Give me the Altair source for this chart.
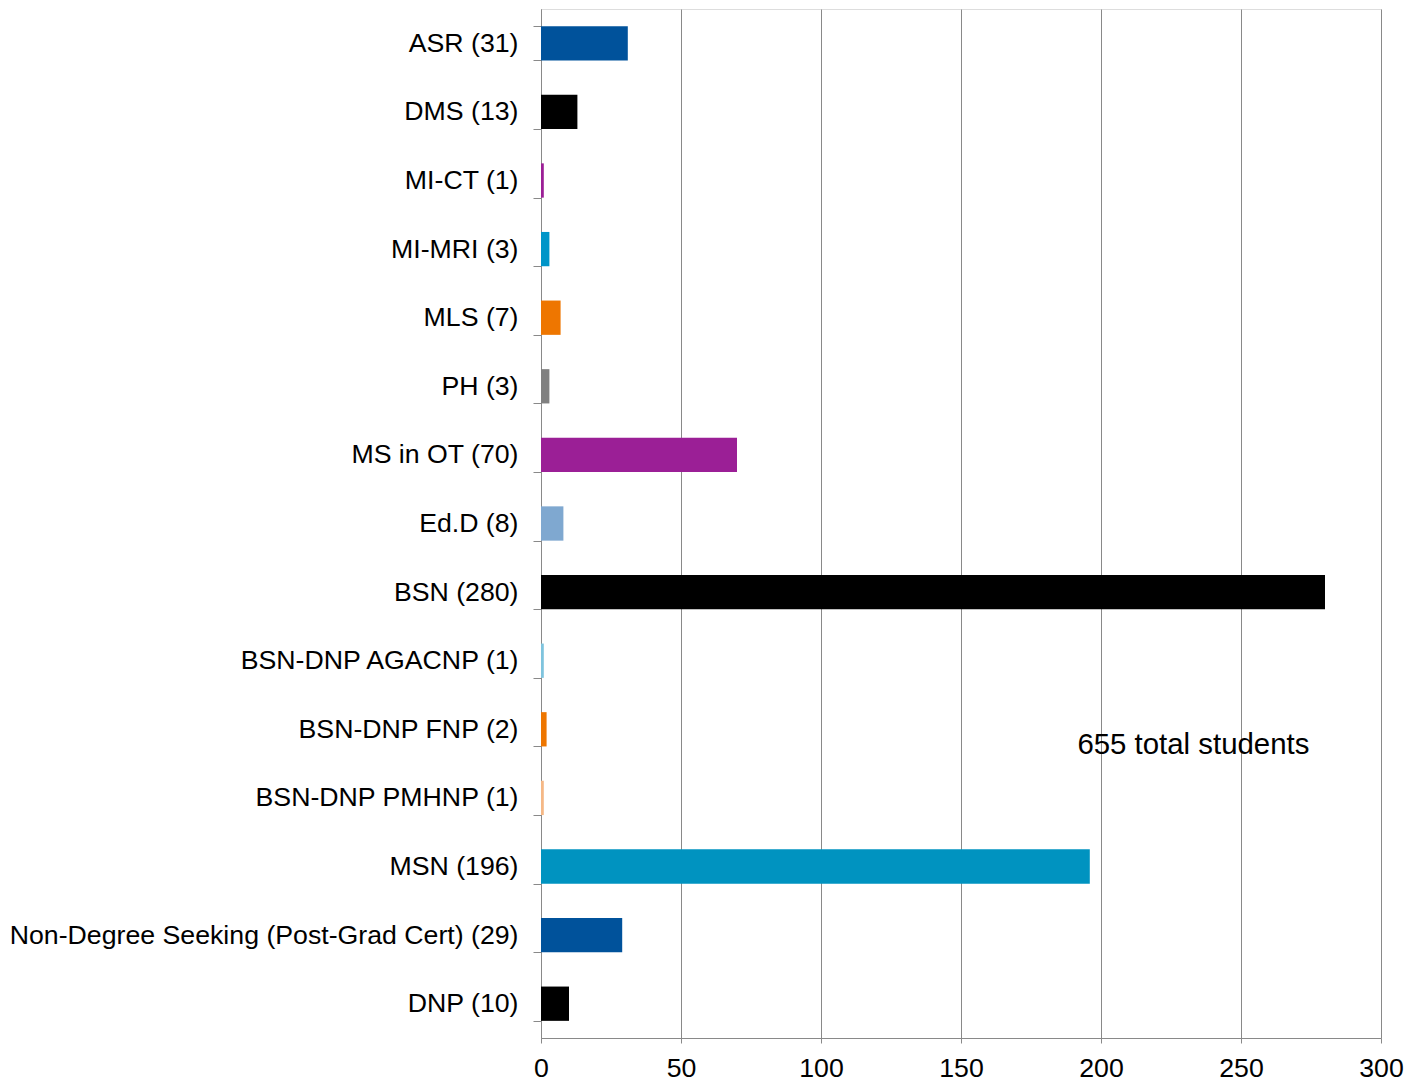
import altair as alt
import pandas as pd

programs = [
    "ASR (31)", "DMS (13)", "MI-CT (1)", "MI-MRI (3)", "MLS (7)", "PH (3)",
    "MS in OT (70)", "Ed.D (8)", "BSN (280)", "BSN-DNP AGACNP (1)",
    "BSN-DNP FNP (2)", "BSN-DNP PMHNP (1)", "MSN (196)",
    "Non-Degree Seeking (Post-Grad Cert) (29)", "DNP (10)",
]
counts = [31, 13, 1, 3, 7, 3, 70, 8, 280, 1, 2, 1, 196, 29, 10]
colors = [
    "#00529B", "#000000", "#9B1F96", "#0095C8", "#EE7600", "#808080",
    "#9B1F96", "#7FA8D0", "#000000", "#7FC4DE", "#EE7600", "#F5B886",
    "#0093C0", "#00529B", "#000000",
]
annotation = "655 total students"
annotation_x = 233

df = pd.DataFrame({"program": programs, "count": counts, "color": colors})

FONT = "Liberation Sans"
GRID = "#898989"

bars = alt.Chart(df).mark_bar().encode(
    x=alt.X(
        "count:Q",
        scale=alt.Scale(domain=[0, 300], nice=False),
        axis=alt.Axis(
            values=[0, 50, 100, 150, 200, 250, 300],
            title=None,
            grid=True,
            gridColor=GRID,
            gridWidth=1,
            domainColor=GRID,
            tickColor=GRID,
            tickSize=5,
            labelFont=FONT,
            labelFontSize=26.7,
            labelColor="#000000",
            labelPadding=12,
            labelFlush=False,
        ),
    ),
    y=alt.Y(
        "program:N",
        sort=programs,
        scale=alt.Scale(paddingInner=0.5, paddingOuter=0.25),
        axis=alt.Axis(
            title=None,
            tickBand="extent",
            domainColor=GRID,
            tickColor=GRID,
            tickSize=8,
            labelFont=FONT,
            labelFontSize=26.7,
            labelColor="#000000",
            labelPadding=15,
            labelLimit=0,
        ),
    ),
    color=alt.Color("color:N", scale=None, legend=None),
)

note = alt.Chart(pd.DataFrame({"x": [annotation_x], "t": [annotation]})).mark_text(
    font=FONT, fontSize=29.4, color="#000000", align="center", baseline="middle"
).encode(
    x=alt.X("x:Q"),
    y=alt.value(736),
    text="t:N",
)

chart = (
    alt.layer(bars, note)
    .properties(
        width=840,
        height=1029,
        autosize=alt.AutoSizeParams(type="none"),
        padding={"left": 533, "top": 1, "right": 30, "bottom": 48},
    )
    .configure_view(stroke=None)
    .configure(background="#ffffff")
)

chart.save("out.html", embed_options={"renderer": "svg", "actions": False})
